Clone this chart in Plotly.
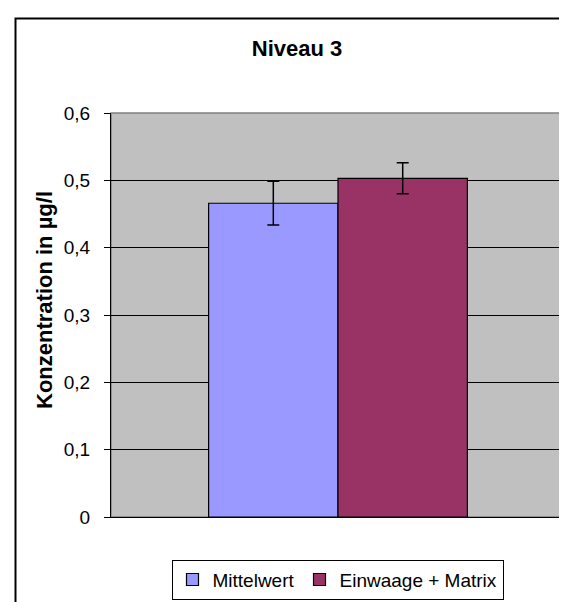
import plotly.graph_objects as go

categories = ["Niveau 3"]
series_names = ["Mittelwert", "Einwaage + Matrix"]
series_values = [[0.466], [0.503]]
series_errors = [[0.0325], [0.023]]
series_colors = ["#9999FF", "#993366"]
tick_values = [0, 0.1, 0.2, 0.3, 0.4, 0.5, 0.6]
tick_labels = ["0", "0,1", "0,2", "0,3", "0,4", "0,5", "0,6"]

FONT = "Liberation Sans, Arial, sans-serif"

fig = go.Figure()
for name, vals, errs, col in zip(series_names, series_values, series_errors, series_colors):
    fig.add_trace(go.Bar(
        x=categories, y=vals, name=name,
        marker=dict(color=col, line=dict(color="black", width=1.2)),
        error_y=dict(type="data", array=errs, visible=True, color="black",
                     thickness=1.5, width=6),
    ))

L, R, T, B = 103, 557, 105, 522
W, H = 567, 602
pw, ph = R - L, B - T

def px(x):
    return (x - L) / pw

def py(y):
    return (B - y) / ph

fig.update_layout(
    width=W, height=H,
    margin=dict(l=L, r=W - R, t=T, b=H - B, pad=0),
    paper_bgcolor="white",
    plot_bgcolor="#C0C0C0",
    barmode="group", bargap=0.43, bargroupgap=0,
    font=dict(family=FONT, size=19, color="black"),
    title=dict(text="<b>Niveau 3</b>", x=289 / W, xanchor="center",
               y=1 - 40 / H, yanchor="middle", xref="container", yref="container",
               font=dict(size=22, family=FONT, color="black")),
    showlegend=True,
    legend=dict(orientation="h", x=px(329.5), xanchor="center", y=py(566), yanchor="top",
                bordercolor="black", borderwidth=1, bgcolor="white",
                font=dict(size=19, family=FONT), traceorder="normal",
                itemwidth=30, tracegroupgap=0),
    xaxis=dict(showticklabels=False, ticks="", showline=True, linecolor="black",
               linewidth=1, showgrid=False, zeroline=False, mirror=False),
    yaxis=dict(range=[0, 0.6], tickvals=tick_values, ticktext=tick_labels,
               ticks="outside", ticklen=6, tickcolor="black", tickwidth=1,
               ticklabelstandoff=10,
               showline=True, linecolor="black", linewidth=1,
               showgrid=True, gridcolor="black", gridwidth=1, zeroline=False,
               tickfont=dict(size=19, family=FONT)),
    annotations=[
        dict(text="<b>Konzentration in µg/l</b>", textangle=-90,
             xref="paper", yref="paper", x=px(37), y=py(298),
             xanchor="center", yanchor="middle", showarrow=False,
             font=dict(size=22, family=FONT, color="black")),
    ],
    shapes=[
        dict(type="rect", xref="paper", yref="paper", x0=0, x1=1, y0=0, y1=1,
             line=dict(color="#808080", width=1.5), layer="below"),
        dict(type="rect", xref="paper", yref="paper",
             x0=px(7.5), x1=px(600), y0=py(7.5), y1=py(640),
             line=dict(color="black", width=2), fillcolor="rgba(0,0,0,0)"),
    ],
)

fig.write_html("out.html")
